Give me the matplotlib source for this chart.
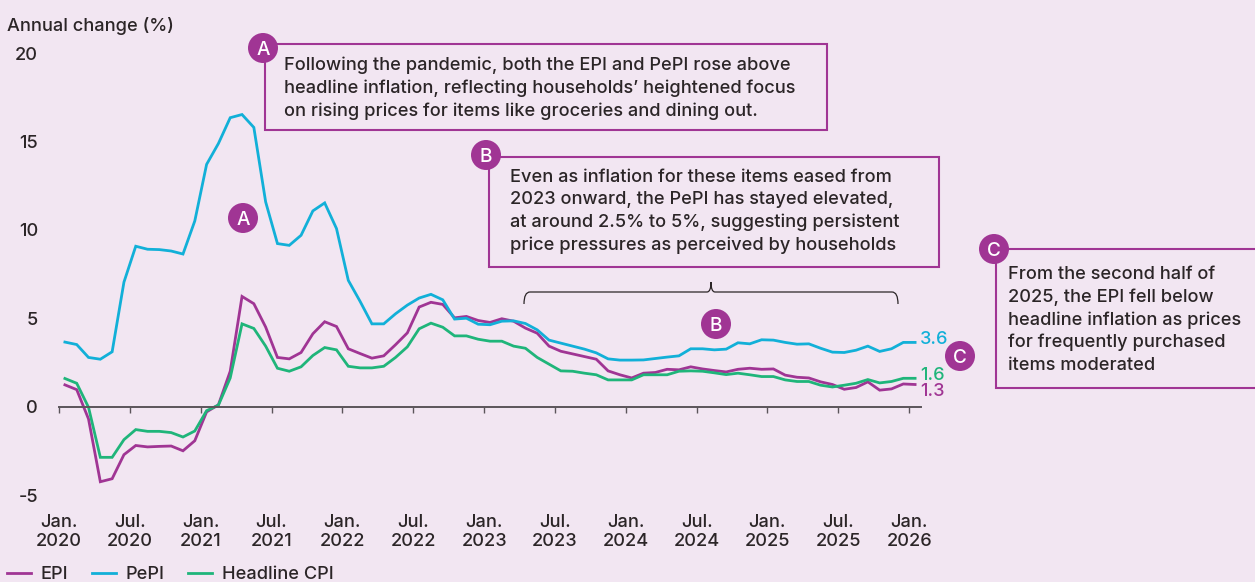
import matplotlib
matplotlib.use("Agg")
import matplotlib.pyplot as plt
from matplotlib.patches import Rectangle, Circle, PathPatch
from matplotlib.path import Path

W, H = 1255, 582
BG = "#F2E6F2"; PURPLE = "#A03594"; BLUE = "#12B0D8"; GREEN = "#1FB57A"; INK = "#2B2527"; AXIS = "#5B555A"
plt.rcParams["font.family"] = ["Inter", "Liberation Sans", "DejaVu Sans"]
plt.rcParams["font.weight"] = "medium"

epi = [1.23,0.96,-0.7,-4.25,-4.08,-2.72,-2.2,-2.28,-2.25,-2.23,-2.5,-1.93,-0.3,0.1,2.0,6.23,5.82,4.5,2.78,2.7,
       3.06,4.12,4.8,4.53,3.27,3.0,2.74,2.87,3.5,4.17,5.63,5.9,5.78,5.02,5.1,4.87,4.76,4.97,4.83,4.44,
       4.15,3.42,3.13,2.98,2.83,2.68,2.02,1.8,1.62,1.89,1.93,2.11,2.08,2.25,2.13,2.04,1.96,2.11,2.17,2.11,
       2.13,1.78,1.66,1.62,1.4,1.25,0.98,1.08,1.4,0.93,1.0,1.28,1.25]
pepi = [3.65,3.51,2.78,2.68,3.1,7.04,9.07,8.9,8.88,8.8,8.63,10.5,13.7,14.88,16.34,16.52,15.79,11.58,9.22,9.12,
        9.69,11.07,11.52,10.07,7.14,5.95,4.68,4.68,5.25,5.74,6.14,6.35,6.04,4.95,5.0,4.66,4.63,4.83,4.85,4.7,
        4.34,3.76,3.59,3.42,3.25,3.04,2.7,2.63,2.63,2.64,2.72,2.8,2.87,3.27,3.27,3.21,3.25,3.61,3.55,3.78,
        3.76,3.63,3.53,3.55,3.3,3.08,3.06,3.19,3.42,3.12,3.27,3.63,3.63]
cpi = [1.59,1.32,-0.04,-2.87,-2.87,-1.87,-1.3,-1.4,-1.4,-1.47,-1.72,-1.38,-0.23,0.08,1.62,4.68,4.42,3.42,2.17,2.0,
       2.25,2.89,3.34,3.21,2.28,2.19,2.19,2.28,2.78,3.38,4.4,4.72,4.49,4.0,4.0,3.81,3.7,3.7,3.42,3.3,
       2.78,2.4,2.02,2.0,1.89,1.8,1.51,1.51,1.51,1.8,1.8,1.8,2.0,2.02,2.0,1.91,1.81,1.89,1.8,1.7,
       1.7,1.51,1.42,1.42,1.21,1.11,1.21,1.32,1.53,1.34,1.42,1.6,1.6]
months = [i + 0.5 for i in range(len(epi))]
x_tick_pos = list(range(0, 73, 6))
x_tick_labels = ["Jan.\n2020","Jul.\n2020","Jan.\n2021","Jul.\n2021","Jan.\n2022","Jul.\n2022","Jan.\n2023",
                 "Jul.\n2023","Jan.\n2024","Jul.\n2024","Jan.\n2025","Jul.\n2025","Jan.\n2026"]
y_ticks = [-5, 0, 5, 10, 15, 20]
FS = 13.1

fig = plt.figure(figsize=(W/100, H/100), dpi=100, facecolor=BG)
ax_l, ax_r, y20, y5 = 59, 921, 53, 495
ax = fig.add_axes([ax_l/W, 1-y5/H, (ax_r-ax_l)/W, (y5-y20)/H], facecolor="none")
ax.set_xlim(0, 73); ax.set_ylim(-5, 20)
for s in ("top","left","right"): ax.spines[s].set_visible(False)
ax.spines["bottom"].set_position(("data", 0))
ax.spines["bottom"].set_color(AXIS); ax.spines["bottom"].set_linewidth(1.4)
ax.plot(months, epi, color=PURPLE, lw=2.0, label="EPI", clip_on=False, solid_joinstyle="miter")
ax.plot(months, pepi, color=BLUE, lw=2.0, label="PePI", clip_on=False, solid_joinstyle="miter")
ax.plot(months, cpi, color=GREEN, lw=2.0, label="Headline CPI", clip_on=False, solid_joinstyle="miter")
ax.set_xticks(x_tick_pos); ax.set_xticklabels(x_tick_labels, fontsize=FS, color=INK, linespacing=1.22)
ax.tick_params(axis="x", length=4, width=1, color=AXIS, pad=73)
ax.set_yticks(y_ticks); ax.set_yticklabels([str(v) for v in y_ticks], fontsize=FS, color=INK)
ax.tick_params(axis="y", length=0, pad=15)

leg = fig.legend(loc="lower left", bbox_to_anchor=(7/W, -1/H), ncol=3, frameon=False, fontsize=FS,
                 handlelength=1.3, handletextpad=0.55, columnspacing=1.3, borderpad=0, borderaxespad=0, labelcolor=INK)

ov = fig.add_axes([0, 0, 1, 1], facecolor="none")
ov.set_xlim(0, W); ov.set_ylim(H, 0); ov.axis("off")

def box(l, t, r, b):
    ov.add_patch(Rectangle((l, t), r-l, b-t, fill=False, ec=PURPLE, lw=1.5, clip_on=True))
def badge(x, y, s):
    ov.add_patch(Circle((x, y), 15, fc=PURPLE, ec="none", zorder=5))
    ov.text(x, y, s, color="white", fontsize=FS+0.6, ha="center", va="center_baseline", zorder=6)
def para(x, ys, lines):
    for y, s in zip(ys, lines):
        ov.text(x, y, s, fontsize=FS, color=INK, ha="left", va="center")

box(265, 44, 827, 130); box(489, 157, 939, 267); box(996, 249, 1270, 388)
para(284, [65.5, 88, 111], ["Following the pandemic, both the EPI and PePI rose above",
                          "headline inflation, reflecting households\u2019 heightened focus",
                          "on rising prices for items like groceries and dining out."])
para(510, [177.5, 200, 222.5, 245], ["Even as inflation for these items eased from",
                                 "2023 onward, the PePI has stayed elevated,",
                                 "at around 2.5% to 5%, suggesting persistent",
                                 "price pressures as perceived by households"])
para(1008, [274.5, 297.5, 320, 342.5, 365.5], ["From the second half of", "2025, the EPI fell below",
                                       "headline inflation as prices", "for frequently purchased", "items moderated"])
badge(263, 48, "A"); badge(243, 218, "A"); badge(486, 155, "B"); badge(716, 324, "B"); badge(994, 249, "C"); badge(960, 356, "C")
ov.text(7, 26, "Annual change (%)", fontsize=FS, color=INK, ha="left", va="center")
for y, s, c in [(339.5, "3.6", BLUE), (375.5, "1.6", GREEN), (391.5, "1.3", PURPLE)]:
    ov.text(920, y, s, fontsize=FS, color=c, ha="left", va="center")

verts = [(524,304),(524,292),(530,292),(707,292),(711,292),(711,282),(711,292),(715,292),(892,292),(898,292),(898,304)]
codes = [Path.MOVETO,Path.CURVE3,Path.CURVE3,Path.LINETO,Path.CURVE3,Path.CURVE3,Path.CURVE3,Path.CURVE3,Path.LINETO,Path.CURVE3,Path.CURVE3]
ov.add_patch(PathPatch(Path(verts, codes), fill=False, ec=INK, lw=0.9))
fig.savefig("out.png", dpi=100, facecolor=BG)
